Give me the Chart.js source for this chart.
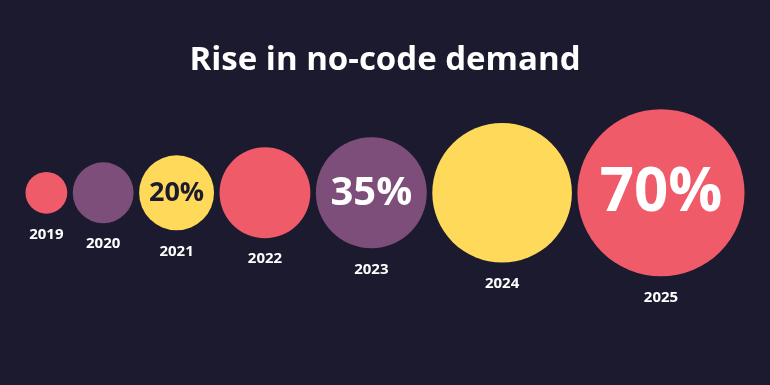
<!DOCTYPE html>
<html>
<head>
<meta charset="utf-8">
<script src="https://cdn.jsdelivr.net/npm/chart.js@4/dist/chart.umd.min.js"></script>
<style>
  html, body { margin: 0; padding: 0; background: #1c1a2e; }
  canvas { display: block; }
</style>
</head>
<body>
<canvas id="c" width="770" height="385"></canvas>
<script>
// ---- data ----
const years = ['2019', '2020', '2021', '2022', '2023', '2024', '2025'];
const demand = [10.5, 15.5, 20, 26, 35, 51, 70];         // % (estimated where unlabeled)
const valueLabels = [null, null, '20%', null, '35%', null, '70%'];
const colors = ['#f05b6a', '#7e4e7b', '#fed95a', '#f05b6a', '#7e4e7b', '#fed95a', '#f05b6a'];
const labelColors = [null, null, '#1c1a2e', null, '#ffffff', null, '#ffffff'];
const titleText = 'Rise in no-code demand';

// radius scale (power mapping of the value)
const radiusOf = v => 25.8 * Math.pow(v, 0.37) - 40.7;
// pack bubbles side by side, centred in the canvas width
const W = 770, GAP = 5.5;
const radii = demand.map(radiusOf);
const total = radii.reduce((s, r) => s + 2 * r, 0) + GAP * (radii.length - 1);
let cursor = (W - total) / 2;
const points = demand.map((v, i) => {
  const x = cursor + radii[i];
  cursor += 2 * radii[i] + GAP;
  return { x: x, y: 0, r: radii[i], v: v };
});

const labelPlugin = {
  id: 'bubbleLabels',
  afterDatasetsDraw(chart) {
    const ctx = chart.ctx;
    const meta = chart.getDatasetMeta(0);
    ctx.save();
    ctx.textAlign = 'center';
    ctx.textBaseline = 'middle';
    meta.data.forEach((el, i) => {
      const r = el.options.radius;
      // year label
      ctx.fillStyle = '#ffffff';
      ctx.font = 'bold 15px "Open Sans", "Noto Sans", sans-serif';
      ctx.fillText(years[i], el.x, el.y + r + 21);
      // value label
      if (valueLabels[i]) {
        ctx.fillStyle = labelColors[i];
        ctx.font = 'bold ' + Math.round(r * 0.72) + 'px "Open Sans", "Noto Sans", sans-serif';
        ctx.fillText(valueLabels[i], el.x, el.y + 1);
      }
    });
    ctx.restore();
  }
};

new Chart(document.getElementById('c'), {
  type: 'bubble',
  data: {
    datasets: [{
      data: points,
      backgroundColor: colors,
      borderWidth: 0,
      hoverBorderWidth: 0,
      radius: ctx => radiusOf(ctx.raw.v)
    }]
  },
  options: {
    responsive: false,
    animation: false,
    clip: false,
    layout: { autoPadding: false, padding: { left: 0, right: 0, top: 0, bottom: 80 } },
    events: [],
    scales: {
      x: { type: 'linear', display: false, min: 0, max: W },
      y: { type: 'linear', display: false, min: -1, max: 1 }
    },
    plugins: {
      legend: { display: false },
      tooltip: { enabled: false },
      title: {
        display: true,
        text: titleText,
        color: '#ffffff',
        font: { family: '"Open Sans", "Noto Sans", sans-serif', size: 33, weight: 'bold', lineHeight: 1.2 },
        padding: { top: 41, bottom: 0 }
      }
    }
  },
  plugins: [labelPlugin]
});
</script>
</body>
</html>
